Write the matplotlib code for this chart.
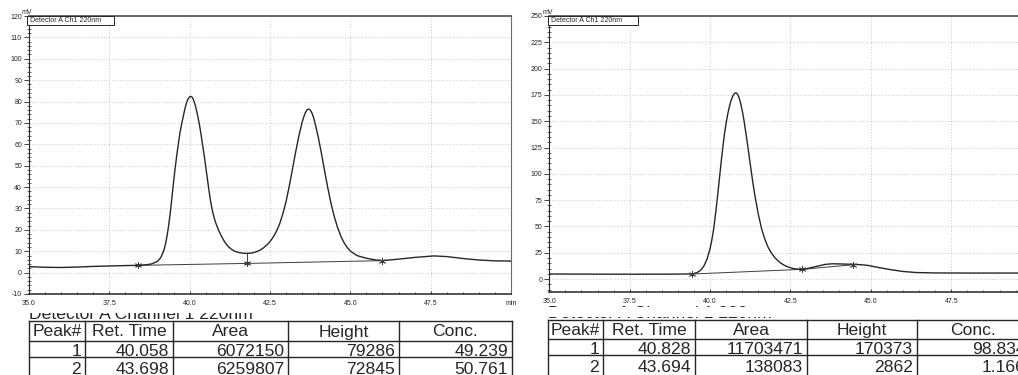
#!/usr/bin/env python3
"""Chiral HPLC traces (racemate vs. enriched sample) with peak tables."""

import matplotlib

matplotlib.use("Agg")
import matplotlib.pyplot as plt
from matplotlib.patches import Rectangle
from matplotlib.ticker import FuncFormatter, MultipleLocator

# --- racemic run: detector signal (mV) vs. time (min) ---
RAC_TIME = [35.0, 35.5, 36.0, 36.5, 37.0, 37.5, 38.0, 38.4, 38.6, 38.8, 38.9, 39.0,
            39.1, 39.2, 39.25, 39.3, 39.35, 39.4, 39.45, 39.5, 39.55, 39.6, 39.65, 39.7,
            39.75, 39.8, 39.85, 39.9, 39.95, 40.0, 40.04, 40.08, 40.12, 40.16, 40.2, 40.25,
            40.3, 40.35, 40.4, 40.45, 40.5, 40.55, 40.6, 40.65, 40.7, 40.75, 40.8, 40.9,
            41.0, 41.1, 41.2, 41.3, 41.4, 41.5, 41.6, 41.7, 41.78, 41.9, 42.0, 42.1,
            42.2, 42.3, 42.4, 42.5, 42.6, 42.7, 42.8, 42.9, 43.0, 43.1, 43.2, 43.3,
            43.4, 43.5, 43.55, 43.6, 43.65, 43.7, 43.75, 43.8, 43.85, 43.9, 44.0, 44.1,
            44.2, 44.3, 44.4, 44.5, 44.6, 44.7, 44.8, 44.9, 45.0, 45.2, 45.5, 45.8,
            46.0, 46.5, 47.0, 47.6, 48.0, 48.5, 49.0, 49.5, 50.0]
RAC_MV = [2.8, 2.5, 2.4, 2.6, 2.9, 3.1, 3.3, 3.4, 3.6, 4.0, 4.6, 5.3,
          7.0, 10.5, 13.5, 17.5, 22.5, 28.5, 35.5, 42.5, 49.0, 55.0, 60.5, 65.5,
          69.5, 73.0, 76.5, 79.3, 81.2, 82.2, 82.4, 82.0, 80.8, 79.0, 76.7, 73.3,
          69.5, 65.0, 60.0, 55.0, 49.5, 44.0, 38.5, 33.5, 29.5, 26.3, 23.7, 19.8,
          16.7, 14.1, 12.2, 10.9, 10.0, 9.5, 9.2, 9.05, 9.0, 9.1, 9.4, 9.9,
          10.6, 11.6, 12.9, 14.5, 16.6, 19.3, 22.8, 27.5, 33.2, 40.5, 48.5, 56.5,
          64.0, 70.3, 72.8, 74.8, 76.1, 76.5, 76.1, 74.8, 72.8, 70.0, 63.5, 55.8,
          47.5, 39.5, 32.3, 26.2, 21.2, 17.2, 14.1, 11.8, 10.1, 8.0, 6.7, 5.9,
          5.6, 6.3, 7.1, 7.8, 7.5, 6.6, 5.9, 5.5, 5.4]
RAC_BASE_TIME = [38.4, 41.78, 46.0]
RAC_BASE_MV = [3.4, 4.3, 5.6]
RAC_VALLEY_MV = 9.0

# --- enriched run ---
ENR_TIME = [35.0, 36.0, 37.0, 38.0, 39.0, 39.45, 39.5, 39.6, 39.7, 39.8, 39.9, 40.0,
            40.05, 40.1, 40.15, 40.2, 40.25, 40.3, 40.35, 40.4, 40.45, 40.5, 40.55, 40.6,
            40.65, 40.7, 40.75, 40.8, 40.85, 40.9, 40.95, 41.0, 41.05, 41.1, 41.15, 41.2,
            41.25, 41.3, 41.35, 41.4, 41.5, 41.6, 41.7, 41.8, 41.9, 42.0, 42.1, 42.2,
            42.3, 42.4, 42.5, 42.6, 42.7, 42.85, 43.0, 43.3, 43.6, 43.8, 44.1, 44.45,
            44.7, 44.9, 45.2, 45.6, 46.0, 46.4, 47.0, 48.0, 49.0, 50.0]
ENR_MV = [4.8, 4.7, 4.6, 4.6, 4.7, 4.9, 5.2, 6.2, 8.2, 12.0, 18.5, 29.0,
          36.5, 45.5, 57.0, 70.0, 84.0, 98.5, 113.0, 126.5, 138.5, 148.5, 157.0, 164.0,
          169.5, 173.5, 176.2, 177.0, 175.8, 172.5, 167.0, 160.0, 151.5, 141.5, 131.0, 120.0,
          109.0, 98.0, 87.5, 78.0, 61.5, 48.0, 38.0, 30.5, 25.0, 20.8, 17.6, 15.1,
          13.2, 11.8, 10.7, 9.9, 9.5, 9.2, 9.8, 12.0, 14.0, 14.5, 14.3, 14.0,
          13.6, 13.0, 11.2, 9.0, 7.2, 6.2, 5.8, 5.7, 5.7, 5.7]
ENR_BASE_TIME = [39.45, 42.85, 44.45]
ENR_BASE_MV = [4.8, 9.2, 13.6]

# --- peak tables ---
TABLE_HEADER = ["Peak#", "Ret. Time", "Area", "Height", "Conc."]
RAC_PEAK_NO = [1, 2]
RAC_RET_TIME = [40.058, 43.698]
RAC_AREA = [6072150, 6259807]
RAC_HEIGHT = [79286, 72845]
RAC_CONC = [49.239, 50.761]

ENR_PEAK_NO = [1, 2]
ENR_RET_TIME = [40.828, 43.694]
ENR_AREA = [11703471, 138083]
ENR_HEIGHT = [170373, 2862]
ENR_CONC = [98.834, 1.166]

W, H = 1018, 375
INK = "#262626"
GRID = "#ababab"
TICK_FONT = ["Liberation Sans Narrow", "Liberation Sans", "DejaVu Sans"]
TABLE_FONT = ["Liberation Sans", "DejaVu Sans"]
TABLE_SIZE = 12.6

fig = plt.figure(figsize=(W / 100, H / 100), dpi=100)


def px_axes(left, top, right, bottom):
    return fig.add_axes([left / W, 1 - bottom / H, (right - left) / W, (bottom - top) / H])


def draw_chromatogram(ax, time, signal, base_t, base_v, ymin, ymax, ymajor, yminor):
    ax.plot(time, signal, color=INK, lw=1.0, zorder=3, solid_joinstyle="round")
    ax.plot(base_t, base_v, color="#3c3c3c", lw=0.7, zorder=2)
    ax.plot(base_t, base_v, ls="none", marker=(6, 2, 0), ms=5, mew=0.6, color="#3c3c3c", zorder=4)

    ax.set_xlim(35.0, 50.0)
    ax.set_ylim(ymin, ymax)
    ax.xaxis.set_major_locator(MultipleLocator(2.5))
    ax.xaxis.set_minor_locator(MultipleLocator(0.5))
    ax.yaxis.set_major_locator(MultipleLocator(ymajor))
    ax.yaxis.set_minor_locator(MultipleLocator(yminor))
    ax.xaxis.set_major_formatter(FuncFormatter(lambda v, p: "min" if v > 49.9 else f"{v:.1f}"))
    ax.yaxis.set_major_formatter(FuncFormatter(lambda v, p: f"{v:.0f}"))
    ax.grid(True, which="major", color=GRID, lw=0.55, ls=(0, (1, 2.6)))

    ax.tick_params(axis="y", which="major", direction="out", length=3.5, width=0.6, pad=1.5,
                   labelsize=5, colors=INK)
    ax.tick_params(axis="y", which="minor", direction="inout", length=2.2, width=0.5, colors=INK)
    ax.tick_params(axis="x", which="major", direction="in", length=2.5, width=0.6, pad=4,
                   labelsize=5, colors=INK)
    ax.tick_params(axis="x", which="minor", direction="in", length=1.5, width=0.5, colors=INK)
    for lab in ax.get_xticklabels() + ax.get_yticklabels():
        lab.set_family(TICK_FONT)

    ax.spines["top"].set_color("#5a5a5a")
    ax.spines["top"].set_linewidth(1.3)
    ax.spines["right"].set_color("#6a6a6a")
    ax.spines["right"].set_linewidth(0.8)
    ax.spines["left"].set_color(INK)
    ax.spines["left"].set_linewidth(0.8)
    ax.spines["bottom"].set_color(INK)
    ax.spines["bottom"].set_linewidth(1.1)


ax_rac = px_axes(29, 16, 511, 294)
draw_chromatogram(ax_rac, RAC_TIME, RAC_MV, RAC_BASE_TIME, RAC_BASE_MV, -10, 120, 10, 2)
# valley drop line between the two enantiomer peaks
ax_rac.plot([RAC_BASE_TIME[1]] * 2, [RAC_BASE_MV[1], RAC_VALLEY_MV], color="#3c3c3c", lw=0.7)

ax_enr = px_axes(549.3, 16, 1031.7, 292.2)
draw_chromatogram(ax_enr, ENR_TIME, ENR_MV, ENR_BASE_TIME, ENR_BASE_MV, -12.5, 250, 25, 5)

# pixel-space overlay for labels and the peak tables
page = fig.add_axes([0, 0, 1, 1])
page.set_xlim(0, W)
page.set_ylim(H, 0)
page.axis("off")

for x0, x1 in [(27, 114), (548, 638)]:
    page.add_patch(Rectangle((x0, 16), x1 - x0, 9, facecolor="white", edgecolor=INK, lw=0.7, zorder=3))
    page.text(x0 + 3, 20.8, "Detector A Ch1 220nm", fontsize=5, va="center", ha="left",
              color=INK, family=TICK_FONT, zorder=4)
    page.text(x0 - 5, 14.5, "mV", fontsize=5, va="baseline", ha="left", color=INK, family=TICK_FONT)


def draw_table(x_edges, y_edges, baselines, columns, cover_to):
    # caption above the table, partly hidden behind a white strip
    page.text(x_edges[0], y_edges[0] - 1.5, "Detector A Channel 1 220nm", fontsize=TABLE_SIZE,
              va="baseline", ha="left", color=INK, family=TABLE_FONT, zorder=2)
    page.add_patch(Rectangle((x_edges[0] - 4, 306.5), 300, cover_to - 306.5, facecolor="white",
                             edgecolor="none", zorder=3))

    for y in y_edges:
        page.plot([x_edges[0], x_edges[-1]], [y, y], color=INK, lw=1.0, zorder=4)
    for x in x_edges:
        page.plot([x, x], [y_edges[0], H + 5], color=INK, lw=1.0, zorder=4)

    for i, name in enumerate(TABLE_HEADER):
        page.text((x_edges[i] + x_edges[i + 1]) / 2, baselines[0], name, fontsize=TABLE_SIZE,
                  ha="center", va="baseline", color=INK, family=TABLE_FONT, zorder=5)
    for r in range(len(columns[0])):
        for i, col in enumerate(columns):
            page.text(x_edges[i + 1] - 4, baselines[r + 1], col[r], fontsize=TABLE_SIZE,
                      ha="right", va="baseline", color=INK, family=TABLE_FONT, zorder=5)


def table_columns(no, rt, area, height, conc):
    return [[str(v) for v in no], [f"{v:.3f}" for v in rt], [str(v) for v in area],
            [str(v) for v in height], [f"{v:.3f}" for v in conc]]


draw_table([29, 85, 173, 288, 399, 512], [320.7, 340.7, 356.7], [336.5, 355.5, 373.5],
           table_columns(RAC_PEAK_NO, RAC_RET_TIME, RAC_AREA, RAC_HEIGHT, RAC_CONC), 313.0)
draw_table([548, 603, 695, 807, 917, 1030], [320.0, 339.0, 355.0], [335.0, 354.0, 372.0],
           table_columns(ENR_PEAK_NO, ENR_RET_TIME, ENR_AREA, ENR_HEIGHT, ENR_CONC), 317.0)

fig.savefig("out.png", dpi=100)
